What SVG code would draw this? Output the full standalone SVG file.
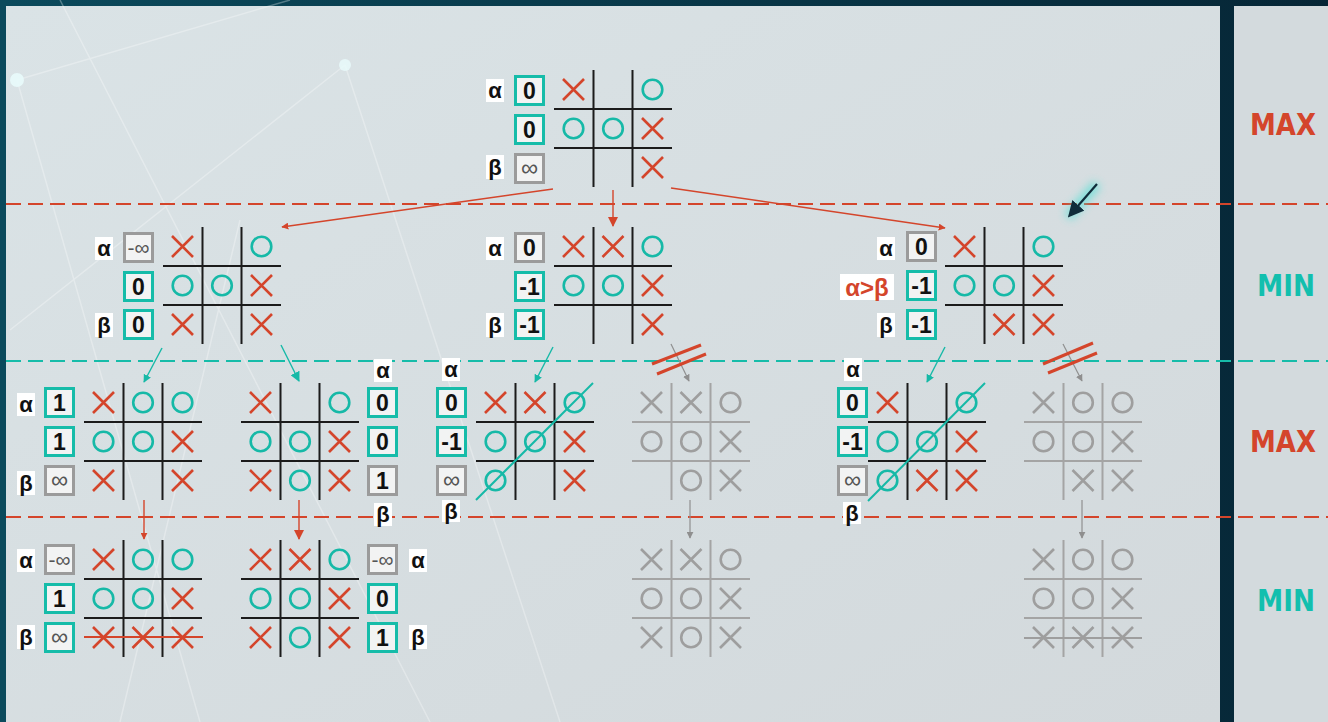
<svg xmlns="http://www.w3.org/2000/svg" width="1328" height="722" viewBox="0 0 1328 722">
<style>
.grid{stroke:#1b1b1b;stroke-width:2;fill:none}
.gridg{stroke:#a4a4a4;stroke-width:2;fill:none}
.xr{stroke:#d4452b;stroke-width:2.6;fill:none}
.ot{stroke:#16b9a7;stroke-width:2.6;fill:none}
.mg{stroke:#9e9e9e;stroke-width:2.6;fill:none}
.bt{fill:#f2f3f3;stroke:#16bca9;stroke-width:3}
.bg{fill:#f2f3f3;stroke:#9b9b9b;stroke-width:3}
.v{font-family:"Liberation Sans",Arial,sans-serif;font-weight:bold;font-size:23px;fill:#111;text-anchor:middle}
.inf{font-family:"Liberation Sans",Arial,sans-serif;font-size:24px;fill:#555;text-anchor:middle}
.lb{font-family:"Liberation Sans",Arial,sans-serif;font-weight:bold;font-size:22px;fill:#111;text-anchor:middle}
.lbg{fill:#ffffff}
.lvl{font-family:"DejaVu Sans",sans-serif;font-weight:bold;font-size:31px}
.dr{stroke:#d4452b;stroke-width:2;stroke-dasharray:15 7;fill:none}
.dt{stroke:#16bca9;stroke-width:2;stroke-dasharray:15 7;fill:none}
.cr{stroke:#d4452b;stroke-width:1.4;fill:none}
.ct{stroke:#16b9a7;stroke-width:1.4;fill:none}
.cg{stroke:#8f8f8f;stroke-width:1.2;fill:none}
</style>
<defs>
<path id="X" d="M-10.5,-10.5L10.5,10.5M10.5,-10.5L-10.5,10.5"/>
<circle id="O" r="9.8"/>
<marker id="ar" viewBox="0 0 10 10" refX="9" refY="5" markerWidth="7" markerHeight="7" markerUnits="userSpaceOnUse" orient="auto"><path d="M0,0L10,5L0,10z" fill="#d4452b"/></marker>
<marker id="arb" viewBox="0 0 10 10" refX="9" refY="5" markerWidth="10" markerHeight="10" markerUnits="userSpaceOnUse" orient="auto"><path d="M0,0L10,5L0,10z" fill="#d4452b"/></marker>
<marker id="at" viewBox="0 0 10 10" refX="9" refY="5" markerWidth="8" markerHeight="8" markerUnits="userSpaceOnUse" orient="auto"><path d="M0,0L10,5L0,10z" fill="#16b9a7"/></marker>
<marker id="atb" viewBox="0 0 10 10" refX="9" refY="5" markerWidth="10" markerHeight="10" markerUnits="userSpaceOnUse" orient="auto"><path d="M0,0L10,5L0,10z" fill="#16b9a7"/></marker>
<marker id="ag" viewBox="0 0 10 10" refX="9" refY="5" markerWidth="7" markerHeight="7" markerUnits="userSpaceOnUse" orient="auto"><path d="M0,0L10,5L0,10z" fill="#8f8f8f"/></marker>
<marker id="ad" viewBox="0 0 10 10" refX="8" refY="5" markerWidth="16" markerHeight="16" markerUnits="userSpaceOnUse" orient="auto"><path d="M0,0L10,5L0,10z" fill="#0f2c3a"/></marker>
<linearGradient id="frame" x1="0" y1="0" x2="1" y2="0"><stop offset="0" stop-color="#0b4a5c"/><stop offset="1" stop-color="#062636"/></linearGradient>
<linearGradient id="panel" x1="0" y1="0" x2="1" y2="1"><stop offset="0" stop-color="#dae3e6"/><stop offset="1" stop-color="#d3d9dc"/></linearGradient>
<filter id="blur" x="-50%" y="-50%" width="200%" height="200%"><feGaussianBlur stdDeviation="4"/></filter>
</defs>

<g id="background">
<rect x="0" y="0" width="1328" height="722" fill="url(#frame)"/>
<rect x="6" y="6" width="1214" height="716" fill="url(#panel)"/>
<rect x="1234" y="6" width="94" height="716" fill="#d3dadd"/>
<g stroke="#ffffff" stroke-opacity="0.3" stroke-width="1.5" fill="none">
<path d="M17,80L290,0M17,80L200,722M345,65L560,722M345,65L10,330M240,220L120,722M60,0L430,722"/>
</g>
<circle cx="17" cy="80" r="7" fill="#e8fbfb" opacity="0.9"/>
<circle cx="345" cy="65" r="6" fill="#e8fbfb" opacity="0.8"/>
</g>

<g id="level-lines">
<line class="dr" x1="6" y1="204" x2="1328" y2="204"/>
<line class="dt" x1="6" y1="361" x2="1328" y2="361"/>
<line class="dr" x1="6" y1="517" x2="1328" y2="517"/>
</g>

<g id="level-labels">
<text class="lvl" x="1283" y="135" text-anchor="middle" fill="#d4452b" textLength="66" lengthAdjust="spacingAndGlyphs">MAX</text>
<text class="lvl" x="1286" y="296" text-anchor="middle" fill="#12bfae" textLength="58" lengthAdjust="spacingAndGlyphs">MIN</text>
<text class="lvl" x="1283" y="452" text-anchor="middle" fill="#d4452b" textLength="66" lengthAdjust="spacingAndGlyphs">MAX</text>
<text class="lvl" x="1286" y="611" text-anchor="middle" fill="#12bfae" textLength="58" lengthAdjust="spacingAndGlyphs">MIN</text>
</g>

<g id="connectors">
<line class="cr" x1="553" y1="189" x2="282" y2="227" marker-end="url(#ar)"/>
<line class="cr" x1="613" y1="190" x2="613" y2="226" stroke-width="2.4" marker-end="url(#arb)"/>
<line class="cr" x1="671" y1="188" x2="945" y2="228" marker-end="url(#ar)"/>
<line class="ct" x1="162" y1="348" x2="144" y2="382" marker-end="url(#at)"/>
<line class="ct" x1="281" y1="345" x2="299" y2="381" stroke-width="2.2" marker-end="url(#atb)"/>
<line class="ct" x1="553" y1="347" x2="535" y2="382" marker-end="url(#at)"/>
<line class="cg" x1="671" y1="344" x2="689" y2="381" marker-end="url(#ag)"/>
<line class="ct" x1="945" y1="347" x2="927" y2="382" marker-end="url(#at)"/>
<line class="cg" x1="1063" y1="344" x2="1082" y2="381" marker-end="url(#ag)"/>
<line class="cr" x1="144" y1="500" x2="144" y2="539" marker-end="url(#ar)"/>
<line class="cr" x1="299" y1="500" x2="299" y2="539" stroke-width="2.4" marker-end="url(#arb)"/>
<line class="cg" x1="690" y1="500" x2="690" y2="538" marker-end="url(#ag)"/>
<line class="cg" x1="1082" y1="500" x2="1082" y2="538" marker-end="url(#ag)"/>
<g stroke="#d4452b" stroke-width="3">
<line x1="652" y1="364" x2="701" y2="345"/>
<line x1="657" y1="374" x2="706" y2="354"/>
<line x1="1043" y1="364" x2="1093" y2="343"/>
<line x1="1048" y1="373" x2="1097" y2="353"/>
</g>
</g>

<g id="pointer">
<line x1="1097" y1="184" x2="1068" y2="217" stroke="#3fe0d4" stroke-width="10" opacity="0.6" filter="url(#blur)"/>
<line x1="1097" y1="184" x2="1070" y2="215" stroke="#0f2c3a" stroke-width="2.2" marker-end="url(#ad)"/>
</g>

<!-- Top MAX node -->
<g id="node-root">
<g transform="translate(554,70)">
<path class="grid" d="M39.5,0V117M78.5,0V117M0,39H118M0,78H118"/>
<use href="#X" class="xr" x="19.5" y="19.5"/><use href="#O" class="ot" x="98.5" y="19.5"/>
<use href="#O" class="ot" x="19.5" y="58.5"/><use href="#O" class="ot" x="59" y="58.5"/><use href="#X" class="xr" x="98.5" y="58.5"/>
<use href="#X" class="xr" x="98.5" y="97.5"/>
</g>
<rect class="bt" x="515.5" y="76.5" width="28" height="28"/><text class="v" x="529.5" y="99">0</text>
<rect class="bt" x="515.5" y="115.5" width="28" height="28"/><text class="v" x="529.5" y="138">0</text>
<rect class="bg" x="515.5" y="154.5" width="28" height="28"/><text class="inf" x="529.5" y="176">∞</text>
<rect class="lbg" x="486" y="79" width="18" height="23"/><text class="lb" x="495" y="98">α</text>
<rect class="lbg" x="486" y="155" width="18" height="24"/><text class="lb" x="495" y="175">β</text>
</g>

<!-- MIN level -->
<g id="node-min-left">
<g transform="translate(163,227)">
<path class="grid" d="M39.5,0V117M78.5,0V117M0,39H118M0,78H118"/>
<use href="#X" class="xr" x="19.5" y="19.5"/><use href="#O" class="ot" x="98.5" y="19.5"/>
<use href="#O" class="ot" x="19.5" y="58.5"/><use href="#O" class="ot" x="59" y="58.5"/><use href="#X" class="xr" x="98.5" y="58.5"/>
<use href="#X" class="xr" x="19.5" y="97.5"/><use href="#X" class="xr" x="98.5" y="97.5"/>
</g>
<rect class="bg" x="124.5" y="233.5" width="28" height="28"/><text class="inf" x="138.5" y="255" style="font-size:21px">-∞</text>
<rect class="bt" x="124.5" y="272.5" width="28" height="28"/><text class="v" x="138.5" y="295">0</text>
<rect class="bt" x="124.5" y="310.5" width="28" height="28"/><text class="v" x="138.5" y="333">0</text>
<rect class="lbg" x="95" y="237" width="18" height="23"/><text class="lb" x="104" y="256">α</text>
<rect class="lbg" x="95" y="313" width="18" height="24"/><text class="lb" x="104" y="333">β</text>
</g>

<g id="node-min-mid">
<g transform="translate(554,227)">
<path class="grid" d="M39.5,0V117M78.5,0V117M0,39H118M0,78H118"/>
<use href="#X" class="xr" x="19.5" y="19.5"/><use href="#X" class="xr" x="59" y="19.5"/><use href="#O" class="ot" x="98.5" y="19.5"/>
<use href="#O" class="ot" x="19.5" y="58.5"/><use href="#O" class="ot" x="59" y="58.5"/><use href="#X" class="xr" x="98.5" y="58.5"/>
<use href="#X" class="xr" x="98.5" y="97.5"/>
</g>
<rect class="bg" x="515.5" y="233.5" width="28" height="28"/><text class="v" x="529.5" y="256">0</text>
<rect class="bt" x="515.5" y="272.5" width="28" height="28"/><text class="v" x="529.5" y="295">-1</text>
<rect class="bt" x="515.5" y="310.5" width="28" height="28"/><text class="v" x="529.5" y="333">-1</text>
<rect class="lbg" x="486" y="237" width="18" height="23"/><text class="lb" x="495" y="256">α</text>
<rect class="lbg" x="486" y="313" width="18" height="24"/><text class="lb" x="495" y="333">β</text>
</g>

<g id="node-min-right">
<g transform="translate(945,227)">
<path class="grid" d="M39.5,0V117M78.5,0V117M0,39H118M0,78H118"/>
<use href="#X" class="xr" x="19.5" y="19.5"/><use href="#O" class="ot" x="98.5" y="19.5"/>
<use href="#O" class="ot" x="19.5" y="58.5"/><use href="#O" class="ot" x="59" y="58.5"/><use href="#X" class="xr" x="98.5" y="58.5"/>
<use href="#X" class="xr" x="59" y="97.5"/><use href="#X" class="xr" x="98.5" y="97.5"/>
</g>
<rect class="bg" x="907.5" y="232.5" width="28" height="28"/><text class="v" x="921.5" y="255">0</text>
<rect class="bt" x="907.5" y="271.5" width="28" height="28"/><text class="v" x="921.5" y="294">-1</text>
<rect class="bt" x="907.5" y="310.5" width="28" height="28"/><text class="v" x="921.5" y="333">-1</text>
<rect class="lbg" x="877" y="237" width="18" height="23"/><text class="lb" x="886" y="256">α</text>
<rect class="lbg" x="840" y="274" width="54" height="26"/><text class="lb" x="867" y="296" style="fill:#d4452b;font-size:24px">α&gt;β</text>
<rect class="lbg" x="877" y="313" width="18" height="24"/><text class="lb" x="886" y="333">β</text>
</g>

<!-- MAX level -->
<g id="node-max-a">
<g transform="translate(84,383)">
<path class="grid" d="M39.5,0V117M78.5,0V117M0,39H118M0,78H118"/>
<use href="#X" class="xr" x="19.5" y="19.5"/><use href="#O" class="ot" x="59" y="19.5"/><use href="#O" class="ot" x="98.5" y="19.5"/>
<use href="#O" class="ot" x="19.5" y="58.5"/><use href="#O" class="ot" x="59" y="58.5"/><use href="#X" class="xr" x="98.5" y="58.5"/>
<use href="#X" class="xr" x="19.5" y="97.5"/><use href="#X" class="xr" x="98.5" y="97.5"/>
</g>
<rect class="bt" x="45.5" y="388.5" width="28" height="28"/><text class="v" x="59.5" y="411">1</text>
<rect class="bt" x="45.5" y="427.5" width="28" height="28"/><text class="v" x="59.5" y="450">1</text>
<rect class="bg" x="45.5" y="466.5" width="28" height="28"/><text class="inf" x="59.5" y="488">∞</text>
<rect class="lbg" x="17" y="393" width="18" height="23"/><text class="lb" x="26" y="412">α</text>
<rect class="lbg" x="17" y="471" width="18" height="24"/><text class="lb" x="26" y="491">β</text>
</g>

<g id="node-max-b">
<g transform="translate(241,383)">
<path class="grid" d="M39.5,0V117M78.5,0V117M0,39H118M0,78H118"/>
<use href="#X" class="xr" x="19.5" y="19.5"/><use href="#O" class="ot" x="98.5" y="19.5"/>
<use href="#O" class="ot" x="19.5" y="58.5"/><use href="#O" class="ot" x="59" y="58.5"/><use href="#X" class="xr" x="98.5" y="58.5"/>
<use href="#X" class="xr" x="19.5" y="97.5"/><use href="#O" class="ot" x="59" y="97.5"/><use href="#X" class="xr" x="98.5" y="97.5"/>
</g>
<rect class="bt" x="368.5" y="388.5" width="28" height="28"/><text class="v" x="382.5" y="411">0</text>
<rect class="bt" x="368.5" y="427.5" width="28" height="28"/><text class="v" x="382.5" y="450">0</text>
<rect class="bg" x="368.5" y="466.5" width="28" height="28"/><text class="v" x="382.5" y="489">1</text>
<rect class="lbg" x="374" y="359" width="18" height="23"/><text class="lb" x="383" y="378">α</text>
<rect class="lbg" x="374" y="503" width="18" height="23"/><text class="lb" x="383" y="522">β</text>
</g>

<g id="node-max-c">
<g transform="translate(476,383)">
<path class="grid" d="M39.5,0V117M78.5,0V117M0,39H118M0,78H118"/>
<use href="#X" class="xr" x="19.5" y="19.5"/><use href="#X" class="xr" x="59" y="19.5"/><use href="#O" class="ot" x="98.5" y="19.5"/>
<use href="#O" class="ot" x="19.5" y="58.5"/><use href="#O" class="ot" x="59" y="58.5"/><use href="#X" class="xr" x="98.5" y="58.5"/>
<use href="#O" class="ot" x="19.5" y="97.5"/><use href="#X" class="xr" x="98.5" y="97.5"/>
<line x1="0" y1="117" x2="117" y2="0" stroke="#16b9a7" stroke-width="2"/>
</g>
<rect class="bt" x="437.5" y="388.5" width="28" height="28"/><text class="v" x="451.5" y="411">0</text>
<rect class="bt" x="437.5" y="427.5" width="28" height="28"/><text class="v" x="451.5" y="450">-1</text>
<rect class="bg" x="437.5" y="466.5" width="28" height="28"/><text class="inf" x="451.5" y="488">∞</text>
<rect class="lbg" x="442" y="358" width="18" height="23"/><text class="lb" x="451" y="377">α</text>
<rect class="lbg" x="442" y="500" width="18" height="22"/><text class="lb" x="451" y="519">β</text>
</g>

<g id="node-max-d">
<g transform="translate(632,383)">
<path class="gridg" d="M39.5,0V117M78.5,0V117M0,39H118M0,78H118"/>
<use href="#X" class="mg" x="19.5" y="19.5"/><use href="#X" class="mg" x="59" y="19.5"/><use href="#O" class="mg" x="98.5" y="19.5"/>
<use href="#O" class="mg" x="19.5" y="58.5"/><use href="#O" class="mg" x="59" y="58.5"/><use href="#X" class="mg" x="98.5" y="58.5"/>
<use href="#O" class="mg" x="59" y="97.5"/><use href="#X" class="mg" x="98.5" y="97.5"/>
</g>
</g>

<g id="node-max-e">
<g transform="translate(868,383)">
<path class="grid" d="M39.5,0V117M78.5,0V117M0,39H118M0,78H118"/>
<use href="#X" class="xr" x="19.5" y="19.5"/><use href="#O" class="ot" x="98.5" y="19.5"/>
<use href="#O" class="ot" x="19.5" y="58.5"/><use href="#O" class="ot" x="59" y="58.5"/><use href="#X" class="xr" x="98.5" y="58.5"/>
<use href="#O" class="ot" x="19.5" y="97.5"/><use href="#X" class="xr" x="59" y="97.5"/><use href="#X" class="xr" x="98.5" y="97.5"/>
<line x1="0" y1="118" x2="117" y2="0" stroke="#16b9a7" stroke-width="2"/>
</g>
<rect class="bt" x="838.5" y="388.5" width="28" height="28"/><text class="v" x="852.5" y="411">0</text>
<rect class="bt" x="838.5" y="427.5" width="28" height="28"/><text class="v" x="852.5" y="450">-1</text>
<rect class="bg" x="838.5" y="466.5" width="28" height="28"/><text class="inf" x="852.5" y="488">∞</text>
<rect class="lbg" x="844" y="358" width="18" height="23"/><text class="lb" x="853" y="377">α</text>
<rect class="lbg" x="843" y="502" width="18" height="22"/><text class="lb" x="852" y="521">β</text>
</g>

<g id="node-max-f">
<g transform="translate(1024,383)">
<path class="gridg" d="M39.5,0V117M78.5,0V117M0,39H118M0,78H118"/>
<use href="#X" class="mg" x="19.5" y="19.5"/><use href="#O" class="mg" x="59" y="19.5"/><use href="#O" class="mg" x="98.5" y="19.5"/>
<use href="#O" class="mg" x="19.5" y="58.5"/><use href="#O" class="mg" x="59" y="58.5"/><use href="#X" class="mg" x="98.5" y="58.5"/>
<use href="#X" class="mg" x="59" y="97.5"/><use href="#X" class="mg" x="98.5" y="97.5"/>
</g>
</g>

<!-- bottom MIN level -->
<g id="node-min-g">
<g transform="translate(84,540)">
<path class="grid" d="M39.5,0V117M78.5,0V117M0,39H118M0,78H118"/>
<use href="#X" class="xr" x="19.5" y="19.5"/><use href="#O" class="ot" x="59" y="19.5"/><use href="#O" class="ot" x="98.5" y="19.5"/>
<use href="#O" class="ot" x="19.5" y="58.5"/><use href="#O" class="ot" x="59" y="58.5"/><use href="#X" class="xr" x="98.5" y="58.5"/>
<use href="#X" class="xr" x="19.5" y="97.5"/><use href="#X" class="xr" x="59" y="97.5"/><use href="#X" class="xr" x="98.5" y="97.5"/>
<line x1="0" y1="97" x2="119" y2="97" stroke="#d4452b" stroke-width="2"/>
</g>
<rect class="bg" x="45.5" y="545.5" width="28" height="28"/><text class="inf" x="59.5" y="567" style="font-size:21px">-∞</text>
<rect class="bt" x="45.5" y="584.5" width="28" height="28"/><text class="v" x="59.5" y="607">1</text>
<rect class="bt" x="45.5" y="623.5" width="28" height="28"/><text class="inf" x="59.5" y="645">∞</text>
<rect class="lbg" x="17" y="549" width="18" height="23"/><text class="lb" x="26" y="568">α</text>
<rect class="lbg" x="17" y="625" width="18" height="24"/><text class="lb" x="26" y="645">β</text>
</g>

<g id="node-min-h">
<g transform="translate(241,540)">
<path class="grid" d="M39.5,0V117M78.5,0V117M0,39H118M0,78H118"/>
<use href="#X" class="xr" x="19.5" y="19.5"/><use href="#X" class="xr" x="59" y="19.5"/><use href="#O" class="ot" x="98.5" y="19.5"/>
<use href="#O" class="ot" x="19.5" y="58.5"/><use href="#O" class="ot" x="59" y="58.5"/><use href="#X" class="xr" x="98.5" y="58.5"/>
<use href="#X" class="xr" x="19.5" y="97.5"/><use href="#O" class="ot" x="59" y="97.5"/><use href="#X" class="xr" x="98.5" y="97.5"/>
</g>
<rect class="bg" x="368.5" y="545.5" width="28" height="28"/><text class="inf" x="382.5" y="567" style="font-size:21px">-∞</text>
<rect class="bt" x="368.5" y="584.5" width="28" height="28"/><text class="v" x="382.5" y="607">0</text>
<rect class="bt" x="368.5" y="623.5" width="28" height="28"/><text class="v" x="382.5" y="646">1</text>
<rect class="lbg" x="409" y="549" width="18" height="23"/><text class="lb" x="418" y="568">α</text>
<rect class="lbg" x="409" y="625" width="18" height="24"/><text class="lb" x="418" y="645">β</text>
</g>

<g id="node-min-i">
<g transform="translate(632,540)">
<path class="gridg" d="M39.5,0V117M78.5,0V117M0,39H118M0,78H118"/>
<use href="#X" class="mg" x="19.5" y="19.5"/><use href="#X" class="mg" x="59" y="19.5"/><use href="#O" class="mg" x="98.5" y="19.5"/>
<use href="#O" class="mg" x="19.5" y="58.5"/><use href="#O" class="mg" x="59" y="58.5"/><use href="#X" class="mg" x="98.5" y="58.5"/>
<use href="#X" class="mg" x="19.5" y="97.5"/><use href="#O" class="mg" x="59" y="97.5"/><use href="#X" class="mg" x="98.5" y="97.5"/>
</g>
</g>

<g id="node-min-j">
<g transform="translate(1024,540)">
<path class="gridg" d="M39.5,0V117M78.5,0V117M0,39H118M0,78H118"/>
<use href="#X" class="mg" x="19.5" y="19.5"/><use href="#O" class="mg" x="59" y="19.5"/><use href="#O" class="mg" x="98.5" y="19.5"/>
<use href="#O" class="mg" x="19.5" y="58.5"/><use href="#O" class="mg" x="59" y="58.5"/><use href="#X" class="mg" x="98.5" y="58.5"/>
<use href="#X" class="mg" x="19.5" y="97.5"/><use href="#X" class="mg" x="59" y="97.5"/><use href="#X" class="mg" x="98.5" y="97.5"/>
<line x1="0" y1="98" x2="118" y2="98" stroke="#9e9e9e" stroke-width="2"/>
</g>
</g>
</svg>
